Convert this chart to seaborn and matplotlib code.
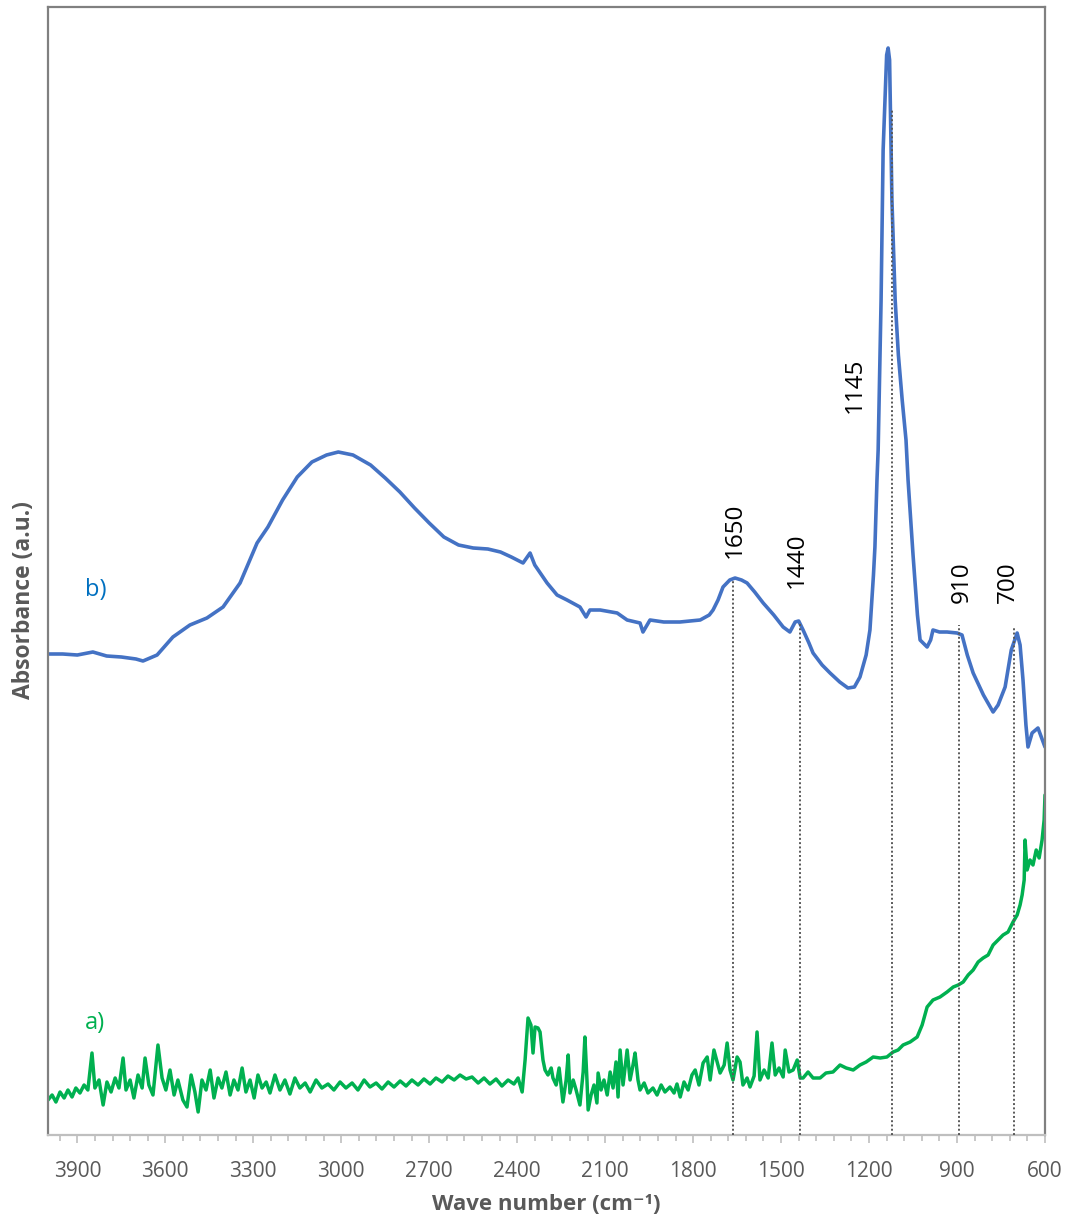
import numpy as np
import pandas as pd
import seaborn as sns
import matplotlib.pyplot as plt
from matplotlib.ticker import MultipleLocator


# spectrum b) (blue)
wavenumber_b = [4000, 3950, 3900, 3847, 3800, 3750, 3700, 3676, 3628, 3574,
                3516, 3458, 3403, 3345, 3287, 3250, 3200, 3150, 3100, 3050,
                3010, 2960, 2900, 2850, 2800, 2750, 2700, 2650, 2600, 2550,
                2500, 2457, 2420, 2380, 2356, 2340, 2298, 2264, 2230, 2186,
                2165, 2152, 2117, 2059, 2025, 1981, 1971, 1947, 1900, 1845,
                1776, 1745, 1732, 1715, 1698, 1675, 1657, 1635, 1616, 1590,
                1561, 1525, 1493, 1470, 1452, 1440, 1425, 1405, 1391, 1360,
                1333, 1300, 1272, 1250, 1231, 1210, 1197, 1185, 1180, 1173,
                1169, 1159, 1152, 1140, 1135, 1130, 1122, 1111, 1100, 1087,
                1074, 1067, 1050, 1035, 1026, 1002, 990, 982, 960, 934,
                900, 883, 865, 845, 810, 777, 760, 736, 715, 695,
                685, 675, 665, 658, 644, 624, 600]
absorbance_b = [0.481, 0.481, 0.480, 0.483, 0.479, 0.478, 0.476, 0.474, 0.480, 0.498,
                0.510, 0.517, 0.528, 0.552, 0.592, 0.608, 0.635, 0.658, 0.673, 0.680,
                0.683, 0.680, 0.670, 0.657, 0.643, 0.627, 0.612, 0.598, 0.590, 0.587,
                0.586, 0.583, 0.578, 0.572, 0.582, 0.570, 0.552, 0.540, 0.535, 0.528,
                0.518, 0.525, 0.525, 0.522, 0.515, 0.512, 0.503, 0.515, 0.513, 0.513,
                0.515, 0.520, 0.525, 0.535, 0.548, 0.555, 0.557, 0.555, 0.552, 0.543,
                0.532, 0.520, 0.508, 0.503, 0.513, 0.514, 0.505, 0.492, 0.482, 0.470,
                0.462, 0.453, 0.447, 0.448, 0.458, 0.480, 0.505, 0.560, 0.588, 0.655,
                0.685, 0.835, 0.985, 1.080, 1.087, 1.075, 0.935, 0.835, 0.780, 0.735,
                0.695, 0.655, 0.580, 0.520, 0.495, 0.488, 0.495, 0.505, 0.503, 0.503,
                0.502, 0.500, 0.480, 0.462, 0.440, 0.423, 0.430, 0.448, 0.485, 0.502,
                0.490, 0.455, 0.410, 0.388, 0.402, 0.407, 0.388]

# spectrum a) (green)
wavenumber_a = [4000, 3986, 3973, 3959, 3945, 3932, 3918, 3905, 3891, 3877,
                3864, 3850, 3840, 3826, 3812, 3799, 3785, 3771, 3758, 3744,
                3734, 3720, 3707, 3693, 3679, 3669, 3656, 3642, 3625, 3611,
                3598, 3584, 3570, 3557, 3540, 3526, 3512, 3499, 3488, 3475,
                3461, 3447, 3434, 3420, 3407, 3393, 3379, 3366, 3352, 3338,
                3325, 3311, 3297, 3284, 3270, 3256, 3243, 3226, 3209, 3192,
                3175, 3158, 3141, 3123, 3106, 3086, 3066, 3045, 3025, 3004,
                2984, 2963, 2943, 2922, 2902, 2881, 2861, 2840, 2820, 2799,
                2779, 2759, 2738, 2718, 2697, 2677, 2656, 2636, 2615, 2595,
                2574, 2554, 2533, 2513, 2493, 2472, 2452, 2431, 2411, 2397,
                2383, 2373, 2363, 2353, 2346, 2339, 2329, 2322, 2312, 2305,
                2295, 2284, 2278, 2267, 2257, 2244, 2233, 2226, 2220, 2209,
                2199, 2186, 2175, 2169, 2162, 2158, 2148, 2138, 2128, 2124,
                2114, 2104, 2093, 2083, 2073, 2063, 2056, 2049, 2039, 2025,
                2015, 2005, 1998, 1988, 1981, 1967, 1954, 1937, 1923, 1909,
                1896, 1879, 1865, 1855, 1844, 1831, 1817, 1804, 1793, 1780,
                1766, 1752, 1742, 1729, 1718, 1708, 1694, 1684, 1674, 1664,
                1650, 1640, 1630, 1616, 1606, 1592, 1582, 1572, 1558, 1544,
                1531, 1520, 1507, 1493, 1486, 1473, 1459, 1445, 1435, 1425,
                1408, 1391, 1367, 1347, 1323, 1299, 1278, 1254, 1231, 1210,
                1186, 1162, 1139, 1118, 1101, 1084, 1060, 1036, 1019, 1002,
                982, 958, 934, 913, 896, 879, 862, 845, 828, 811,
                794, 777, 760, 743, 726, 709, 695, 685, 678, 671,
                668, 661, 651, 641, 630, 620, 610, 603, 600]
absorbance_a = [0.035, 0.040, 0.033, 0.043, 0.037, 0.045, 0.038, 0.047, 0.042, 0.050,
                0.045, 0.082, 0.047, 0.055, 0.030, 0.053, 0.043, 0.057, 0.047, 0.077,
                0.045, 0.055, 0.037, 0.060, 0.047, 0.077, 0.050, 0.040, 0.090, 0.057,
                0.045, 0.065, 0.040, 0.055, 0.035, 0.028, 0.060, 0.043, 0.023, 0.055,
                0.045, 0.065, 0.037, 0.057, 0.047, 0.063, 0.040, 0.055, 0.045, 0.067,
                0.043, 0.055, 0.037, 0.060, 0.047, 0.053, 0.042, 0.060, 0.045, 0.055,
                0.041, 0.057, 0.047, 0.052, 0.043, 0.055, 0.047, 0.051, 0.045, 0.053,
                0.047, 0.052, 0.045, 0.055, 0.048, 0.052, 0.046, 0.053, 0.048, 0.054,
                0.049, 0.055, 0.050, 0.056, 0.051, 0.057, 0.053, 0.059, 0.055, 0.060,
                0.056, 0.058, 0.052, 0.057, 0.051, 0.056, 0.049, 0.055, 0.051, 0.057,
                0.043, 0.075, 0.117, 0.110, 0.082, 0.108, 0.107, 0.103, 0.075, 0.065,
                0.060, 0.067, 0.057, 0.050, 0.067, 0.033, 0.055, 0.080, 0.042, 0.055,
                0.045, 0.030, 0.063, 0.098, 0.055, 0.025, 0.040, 0.050, 0.032, 0.062,
                0.045, 0.055, 0.040, 0.063, 0.047, 0.073, 0.038, 0.085, 0.050, 0.085,
                0.055, 0.070, 0.082, 0.055, 0.045, 0.052, 0.042, 0.047, 0.040, 0.050,
                0.043, 0.048, 0.042, 0.051, 0.038, 0.053, 0.045, 0.060, 0.065, 0.050,
                0.072, 0.078, 0.055, 0.085, 0.073, 0.062, 0.070, 0.092, 0.065, 0.055,
                0.078, 0.073, 0.050, 0.057, 0.048, 0.059, 0.103, 0.055, 0.065, 0.057,
                0.092, 0.060, 0.067, 0.058, 0.085, 0.063, 0.065, 0.075, 0.057, 0.057,
                0.063, 0.057, 0.057, 0.062, 0.063, 0.070, 0.067, 0.065, 0.070, 0.073,
                0.078, 0.077, 0.078, 0.083, 0.085, 0.090, 0.093, 0.098, 0.110, 0.128,
                0.135, 0.138, 0.143, 0.148, 0.150, 0.153, 0.160, 0.165, 0.173, 0.177,
                0.180, 0.190, 0.195, 0.200, 0.203, 0.213, 0.220, 0.230, 0.240, 0.255,
                0.295, 0.265, 0.275, 0.270, 0.285, 0.277, 0.295, 0.315, 0.340]

# peak markers
peak_labels = ['1650', '1440', '1145', '910', '700']
peak_line_x = [1664, 1435, 1121, 893, 705]
peak_line_top = [0.555, 0.512, 1.025, 0.510, 0.508]
peak_text_x = [1657, 1445, 1248, 883, 726]
peak_text_y = [0.577, 0.547, 0.722, 0.532, 0.532]

blue = '#4472C4'
green = '#00B050'
grey_text = '#595959'

sns.set_style('white')
plt.rcParams['font.family'] = ['Open Sans', 'DejaVu Sans']

fig = plt.figure(figsize=(10.7, 12.26), dpi=100)
ax = fig.add_axes([48 / 1070, 1 - 1135 / 1226, (1045 - 48) / 1070, (1135 - 7) / 1226])

for xv, top in zip(peak_line_x, peak_line_top):
    ax.plot([xv, xv], [0, top], color='#595959', lw=1.4, ls=(0, (1, 1.2)), zorder=3)

df_a = pd.DataFrame({'wn': wavenumber_a, 'abs': absorbance_a})
df_b = pd.DataFrame({'wn': wavenumber_b, 'abs': absorbance_b})
sns.lineplot(data=df_a, x='wn', y='abs', color=green, lw=2.5, estimator=None, ax=ax, zorder=2)
sns.lineplot(data=df_b, x='wn', y='abs', color=blue, lw=2.6, estimator=None, ax=ax, zorder=2)

for lab, xv, yv in zip(peak_labels, peak_text_x, peak_text_y):
    ax.text(xv, yv, lab, rotation=90, ha='center', va='bottom', fontsize=17.5, color='black')

ax.text(3838, 0.545, 'b)', color='#0070C0', fontsize=17, ha='center', va='center')
ax.text(3840, 0.112, 'a)', color=green, fontsize=17, ha='center', va='center')

ax.set_xlim(4000, 600)
ax.set_ylim(0, 1.128)
ax.xaxis.set_major_locator(MultipleLocator(300))
ax.xaxis.set_minor_locator(MultipleLocator(60))
ax.set_yticks([])
ax.tick_params(axis='x', which='major', bottom=True, direction='out', length=6, width=1.2,
               color='#bfbfbf', labelsize=15, labelcolor=grey_text, pad=13)
ax.tick_params(axis='x', which='minor', bottom=True, direction='out', length=4.5, width=1.2,
               color='#bfbfbf')

for side in ['left', 'top', 'right']:
    ax.spines[side].set_color('#808080')
    ax.spines[side].set_linewidth(1.6)
ax.spines['bottom'].set_color('#bfbfbf')
ax.spines['bottom'].set_linewidth(1.6)

ax.set_xlabel('Wave number (cm⁻¹)', fontsize=16, fontweight='bold', color=grey_text)
ax.set_ylabel('Absorbance (a.u.)', fontsize=16.5, fontweight='bold', color=grey_text)
ax.xaxis.set_label_coords(0.5, -0.052)
ax.yaxis.set_label_coords(-0.012, 0.474)

fig.savefig('out.png', dpi=100)
